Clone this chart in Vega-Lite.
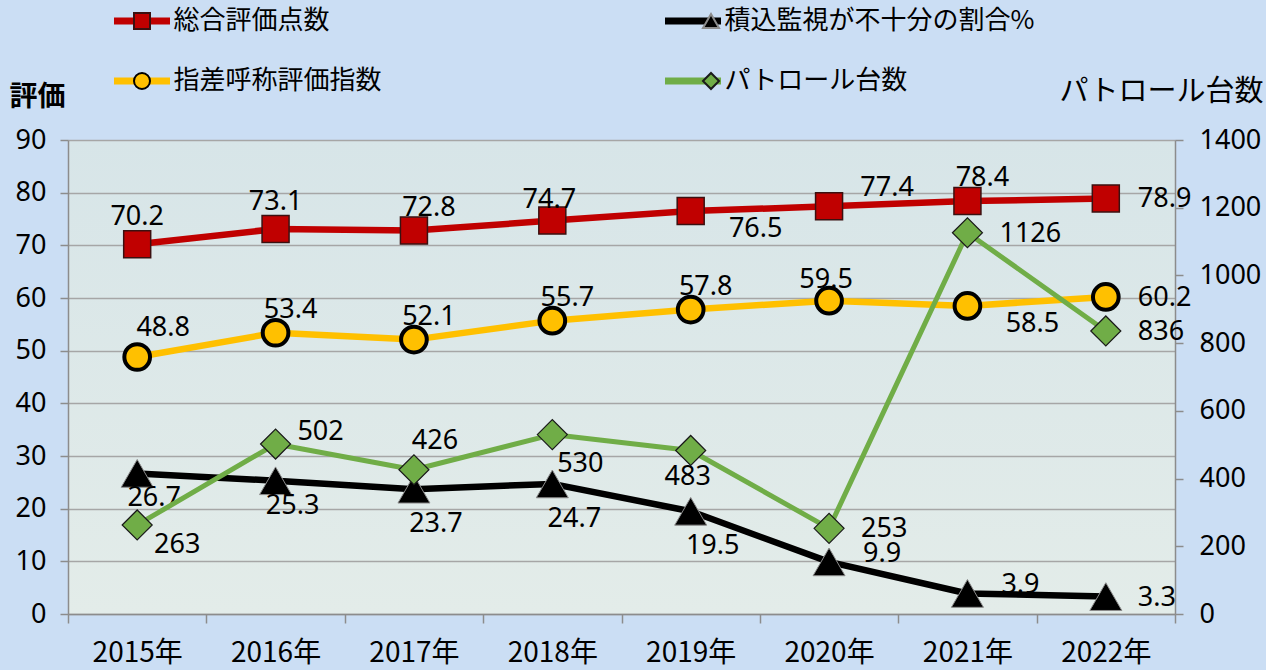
{
  "$schema": "https://vega.github.io/schema/vega-lite/v6.json",
  "width": 1107,
  "height": 474,
  "autosize": "none",
  "padding": {"left": 68, "top": 140, "right": 91, "bottom": 56},
  "background": "#cbdef4",
  "datasets": {
    "d": [
      {"year": "2015年", "series": "総合評価点数", "value": 70.2},
      {"year": "2016年", "series": "総合評価点数", "value": 73.1},
      {"year": "2017年", "series": "総合評価点数", "value": 72.8},
      {"year": "2018年", "series": "総合評価点数", "value": 74.7},
      {"year": "2019年", "series": "総合評価点数", "value": 76.5},
      {"year": "2020年", "series": "総合評価点数", "value": 77.4},
      {"year": "2021年", "series": "総合評価点数", "value": 78.4},
      {"year": "2022年", "series": "総合評価点数", "value": 78.9},
      {"year": "2015年", "series": "指差呼称評価指数", "value": 48.8},
      {"year": "2016年", "series": "指差呼称評価指数", "value": 53.4},
      {"year": "2017年", "series": "指差呼称評価指数", "value": 52.1},
      {"year": "2018年", "series": "指差呼称評価指数", "value": 55.7},
      {"year": "2019年", "series": "指差呼称評価指数", "value": 57.8},
      {"year": "2020年", "series": "指差呼称評価指数", "value": 59.5},
      {"year": "2021年", "series": "指差呼称評価指数", "value": 58.5},
      {"year": "2022年", "series": "指差呼称評価指数", "value": 60.2},
      {"year": "2015年", "series": "積込監視が不十分の割合%", "value": 26.7},
      {"year": "2016年", "series": "積込監視が不十分の割合%", "value": 25.3},
      {"year": "2017年", "series": "積込監視が不十分の割合%", "value": 23.7},
      {"year": "2018年", "series": "積込監視が不十分の割合%", "value": 24.7},
      {"year": "2019年", "series": "積込監視が不十分の割合%", "value": 19.5},
      {"year": "2020年", "series": "積込監視が不十分の割合%", "value": 9.9},
      {"year": "2021年", "series": "積込監視が不十分の割合%", "value": 3.9},
      {"year": "2022年", "series": "積込監視が不十分の割合%", "value": 3.3},
      {"year": "2015年", "series": "パトロール台数", "value": 263},
      {"year": "2016年", "series": "パトロール台数", "value": 502},
      {"year": "2017年", "series": "パトロール台数", "value": 426},
      {"year": "2018年", "series": "パトロール台数", "value": 530},
      {"year": "2019年", "series": "パトロール台数", "value": 483},
      {"year": "2020年", "series": "パトロール台数", "value": 253},
      {"year": "2021年", "series": "パトロール台数", "value": 1126},
      {"year": "2022年", "series": "パトロール台数", "value": 836}
    ]
  },
  "data": {"name": "d"},
  "config": {
    "view": {"stroke": null, "fill": {"gradient": "linear", "x1": 0, "y1": 0, "x2": 0, "y2": 1, "stops": [{"offset": 0, "color": "#d7e5e8"}, {"offset": 1, "color": "#e3ece9"}]}},
    "text": {"font": "Noto Sans", "fontSize": 27, "fill": "#000000", "baseline": "middle", "align": "center"},
    "axis": {"domainColor": "#8c8c8c", "domainWidth": 1.5, "tickColor": "#8c8c8c", "tickWidth": 1.5, "labelColor": "#000000", "titleColor": "#000000", "grid": false},
    "legend": {"orient": "none", "legendX": 42.5, "legendY": -134, "columns": 2, "labelFont": "Noto Sans CJK JP", "labelFontSize": 26, "labelColor": "#000000", "columnPadding": 279, "rowPadding": 30, "clipHeight": 30, "labelLimit": 400}
  },
  "resolve": {"scale": {"y": "independent"}},
  "layer": [
    {
      "transform": [{"filter": "datum.series !== 'パトロール台数'"}],
      "encoding": {
        "x": {"field": "year", "type": "ordinal", "scale": {"type": "band", "paddingInner": 0, "paddingOuter": 0},
              "axis": {"title": null, "labelAngle": 0, "labelFont": "Noto Sans CJK JP", "labelFontSize": 28, "tickBand": "extent", "tickSize": 9, "labelPadding": 16}},
        "y": {"field": "value", "type": "quantitative", "scale": {"domain": [0, 90], "nice": false},
              "axis": {"orient": "left", "values": [0, 10, 20, 30, 40, 50, 60, 70, 80, 90], "grid": true, "gridColor": "#a6a6a6", "gridWidth": 1.5, "tickSize": 8, "labelFont": "Noto Sans", "labelFontSize": 27, "labelPadding": 14,
                       "title": "評価", "titleAngle": 0, "titleX": -31, "titleY": -43, "titleAlign": "center", "titleBaseline": "middle", "titleFont": "Noto Sans CJK JP", "titleFontSize": 28, "titleFontWeight": "bold"}}
      },
      "layer": [
        {
          "mark": {"type": "line", "strokeWidth": 6.5, "strokeCap": "round", "strokeJoin": "round"},
          "encoding": {
            "color": {"field": "series", "type": "nominal",
                      "scale": {"domain": ["総合評価点数", "指差呼称評価指数", "積込監視が不十分の割合%", "パトロール台数"], "range": ["#c00000", "#ffc000", "#000000", "#70ad47"]},
                      "legend": {"title": null, "values": ["総合評価点数", "指差呼称評価指数", "積込監視が不十分の割合%", "パトロール台数"], "symbolType": "stroke", "symbolSize": 3136, "symbolStrokeWidth": 7, "labelOffset": 0}}
          }
        },
        {
          "transform": [{"filter": "datum.series === '総合評価点数'"}],
          "mark": {"type": "point", "filled": true, "opacity": 1, "size": 729, "strokeWidth": 1.5},
          "encoding": {
            "shape": {"field": "series", "type": "nominal", "scale": {"domain": ["総合評価点数", "積込監視が不十分の割合%", "指差呼称評価指数", "パトロール台数"], "range": ["square", "triangle-up", "circle", "diamond"]},
                      "legend": {"title": null, "values": ["総合評価点数", "指差呼称評価指数", "積込監視が不十分の割合%", "パトロール台数"], "symbolOffset": 18.5, "labelOffset": 37, "labelOpacity": 0, "symbolSize": 256, "symbolStrokeWidth": 2, "zindex": 2}},
            "fill": {"field": "series", "type": "nominal", "scale": {"domain": ["総合評価点数", "積込監視が不十分の割合%", "指差呼称評価指数", "パトロール台数"], "range": ["#c00000", "#000000", "#ffc000", "#70ad47"]},
                      "legend": {"title": null, "values": ["総合評価点数", "指差呼称評価指数", "積込監視が不十分の割合%", "パトロール台数"], "symbolOffset": 18.5, "labelOffset": 37, "labelOpacity": 0, "symbolSize": 256, "symbolStrokeWidth": 2, "zindex": 2}},
            "stroke": {"field": "series", "type": "nominal", "scale": {"domain": ["総合評価点数", "積込監視が不十分の割合%", "指差呼称評価指数", "パトロール台数"], "range": ["#3b1010", "#8c8c8c", "#000000", "#1a1a1a"]},
                      "legend": {"title": null, "values": ["総合評価点数", "指差呼称評価指数", "積込監視が不十分の割合%", "パトロール台数"], "symbolOffset": 18.5, "labelOffset": 37, "labelOpacity": 0, "symbolSize": 256, "symbolStrokeWidth": 2, "zindex": 2}}
          }
        },
        {
          "transform": [{"filter": "datum.series === '指差呼称評価指数'"}],
          "mark": {"type": "point", "filled": true, "opacity": 1, "size": 660, "strokeWidth": 4},
          "encoding": {
            "shape": {"field": "series", "type": "nominal"},
            "fill": {"field": "series", "type": "nominal"},
            "stroke": {"field": "series", "type": "nominal"}
          }
        },
        {
          "transform": [{"filter": "datum.series === '積込監視が不十分の割合%'"}],
          "mark": {"type": "point", "filled": true, "opacity": 1, "size": 1024, "strokeWidth": 1},
          "encoding": {
            "shape": {"field": "series", "type": "nominal"},
            "fill": {"field": "series", "type": "nominal"},
            "stroke": {"field": "series", "type": "nominal"}
          }
        },
        {"transform": [{"filter": "indexof(['総合評価点数2015年','総合評価点数2016年'], datum.series + datum.year) >= 0"}],
         "mark": {"type": "text", "dx": 0, "dy": -27}, "encoding": {"text": {"field": "value", "type": "quantitative", "format": ".1f"}}},
        {"transform": [{"filter": "indexof(['総合評価点数2018年','指差呼称評価指数2020年'], datum.series + datum.year) >= 0"}],
         "mark": {"type": "text", "dx": -3, "dy": -21}, "encoding": {"text": {"field": "value", "type": "quantitative", "format": ".1f"}}},
        {"transform": [{"filter": "indexof(['総合評価点数2017年','総合評価点数2021年','指差呼称評価指数2016年','指差呼称評価指数2017年','指差呼称評価指数2018年','指差呼称評価指数2019年'], datum.series + datum.year) >= 0"}],
         "mark": {"type": "text", "dx": 15, "dy": -23}, "encoding": {"text": {"field": "value", "type": "quantitative", "format": ".1f"}}},
        {"transform": [{"filter": "indexof(['指差呼称評価指数2015年'], datum.series + datum.year) >= 0"}],
         "mark": {"type": "text", "dx": 26, "dy": -29}, "encoding": {"text": {"field": "value", "type": "quantitative", "format": ".1f"}}},
        {"transform": [{"filter": "indexof(['総合評価点数2020年'], datum.series + datum.year) >= 0"}],
         "mark": {"type": "text", "dx": 58, "dy": -18}, "encoding": {"text": {"field": "value", "type": "quantitative", "format": ".1f"}}},
        {"transform": [{"filter": "indexof(['総合評価点数2019年','指差呼称評価指数2021年'], datum.series + datum.year) >= 0"}],
         "mark": {"type": "text", "dx": 65, "dy": 18}, "encoding": {"text": {"field": "value", "type": "quantitative", "format": ".1f"}}},
        {"transform": [{"filter": "indexof(['総合評価点数2022年','指差呼称評価指数2022年','積込監視が不十分の割合%2022年'], datum.series + datum.year) >= 0"}],
         "mark": {"type": "text", "align": "left", "dx": 32, "dy": 1}, "encoding": {"text": {"field": "value", "type": "quantitative", "format": ".1f"}}},
        {"transform": [{"filter": "indexof(['積込監視が不十分の割合%2015年','積込監視が不十分の割合%2016年'], datum.series + datum.year) >= 0"}],
         "mark": {"type": "text", "dx": 17, "dy": 25}, "encoding": {"text": {"field": "value", "type": "quantitative", "format": ".1f"}}},
        {"transform": [{"filter": "indexof(['積込監視が不十分の割合%2017年','積込監視が不十分の割合%2018年','積込監視が不十分の割合%2019年'], datum.series + datum.year) >= 0"}],
         "mark": {"type": "text", "dx": 22, "dy": 35}, "encoding": {"text": {"field": "value", "type": "quantitative", "format": ".1f"}}},
        {"transform": [{"filter": "indexof(['積込監視が不十分の割合%2020年','積込監視が不十分の割合%2021年'], datum.series + datum.year) >= 0"}],
         "mark": {"type": "text", "dx": 53, "dy": -8}, "encoding": {"text": {"field": "value", "type": "quantitative", "format": ".1f"}}}
      ]
    },
    {
      "transform": [{"filter": "datum.series === 'パトロール台数'"}],
      "encoding": {
        "x": {"field": "year", "type": "ordinal", "scale": {"type": "band", "paddingInner": 0, "paddingOuter": 0},
              "axis": {"title": null, "labelAngle": 0, "labelFont": "Noto Sans CJK JP", "labelFontSize": 28, "tickBand": "extent", "tickSize": 9, "labelPadding": 16}},
        "y": {"field": "value", "type": "quantitative", "scale": {"domain": [0, 1400], "nice": false},
              "axis": {"orient": "right", "values": [0, 200, 400, 600, 800, 1000, 1200, 1400], "format": "d", "grid": false, "tickSize": 8, "labelFont": "Noto Sans", "labelFontSize": 27, "labelPadding": 16,
                       "title": "パトロール台数", "titleAngle": 0, "titleX": -14, "titleY": -49, "titleAlign": "center", "titleBaseline": "middle", "titleFont": "Noto Sans CJK JP", "titleFontSize": 29, "titleFontWeight": "normal"}}
      },
      "layer": [
        {
          "mark": {"type": "line", "strokeWidth": 5, "strokeCap": "round", "strokeJoin": "round"},
          "encoding": {"color": {"field": "series", "type": "nominal"}}
        },
        {
          "mark": {"type": "point", "filled": true, "opacity": 1, "size": 900, "strokeWidth": 1.2},
          "encoding": {
            "shape": {"field": "series", "type": "nominal"},
            "fill": {"field": "series", "type": "nominal"},
            "stroke": {"field": "series", "type": "nominal"}
          }
        },
        {"transform": [{"filter": "indexof(['2020年','2021年','2022年'], datum.year) >= 0"}],
         "mark": {"type": "text", "align": "left", "dx": 32, "dy": 1}, "encoding": {"text": {"field": "value", "type": "quantitative", "format": "d"}}},
        {"transform": [{"filter": "datum.year === '2015年'"}],
         "mark": {"type": "text", "dx": 40, "dy": 20}, "encoding": {"text": {"field": "value", "type": "quantitative", "format": "d"}}},
        {"transform": [{"filter": "datum.year === '2016年'"}],
         "mark": {"type": "text", "dx": 45, "dy": -12}, "encoding": {"text": {"field": "value", "type": "quantitative", "format": "d"}}},
        {"transform": [{"filter": "datum.year === '2017年'"}],
         "mark": {"type": "text", "dx": 21, "dy": -29}, "encoding": {"text": {"field": "value", "type": "quantitative", "format": "d"}}},
        {"transform": [{"filter": "datum.year === '2018年'"}],
         "mark": {"type": "text", "dx": 28, "dy": 29}, "encoding": {"text": {"field": "value", "type": "quantitative", "format": "d"}}},
        {"transform": [{"filter": "datum.year === '2019年'"}],
         "mark": {"type": "text", "dx": -3, "dy": 27}, "encoding": {"text": {"field": "value", "type": "quantitative", "format": "d"}}}
      ]
    }
  ]
}
